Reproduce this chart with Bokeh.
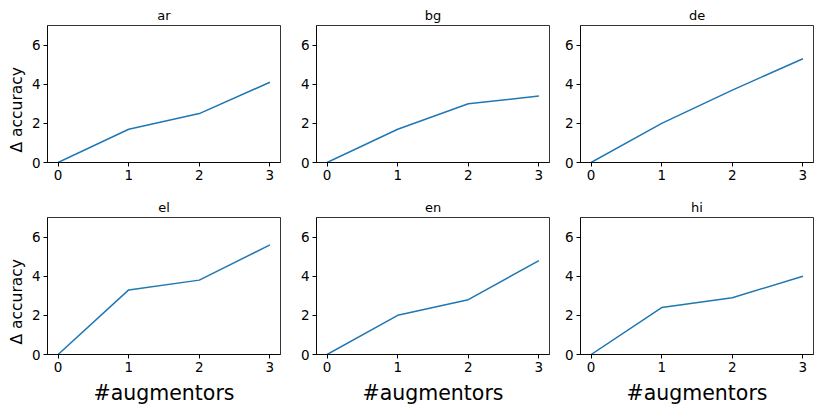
from bokeh.plotting import figure
from bokeh.layouts import column, row
from bokeh.models import FixedTicker, Range1d, Title
from bokeh.embed import file_html
from bokeh.resources import INLINE

num_augmentors = [0, 1, 2, 3]
languages = ["ar", "bg", "de", "el", "en", "hi"]
acc_ar = [0.0, 1.7, 2.5, 4.1]
acc_bg = [0.0, 1.7, 3.0, 3.4]
acc_de = [0.0, 2.0, 3.7, 5.3]
acc_el = [0.0, 3.3, 3.8, 5.6]
acc_en = [0.0, 2.0, 2.8, 4.8]
acc_hi = [0.0, 2.4, 2.9, 4.0]
series = [acc_ar, acc_bg, acc_de, acc_el, acc_en, acc_hi]
y_ticks = [0, 2, 4, 6]
x_ticks = [0, 1, 2, 3]
y_label = "Δ accuracy"
x_label = "#augmentors"

FONT = "DejaVu Sans"
LINE = "#1f77b4"

FW, FH = 233, 137
XR = (-0.15, 3.15)
YR = (0, 7)

lefts = [47, 32, 28]
rights = [4, 3, 5]
tops = [25, 30]
bottoms = [25, 46]

figs = []
for i, (lang, vals) in enumerate(zip(languages, series)):
    r, c = divmod(i, 3)
    p = figure(frame_width=FW, frame_height=FH, output_backend="svg",
               toolbar_location=None, title=lang,
               x_range=Range1d(*XR), y_range=Range1d(*YR),
               min_border_left=lefts[c], min_border_right=rights[c],
               min_border_top=tops[r], min_border_bottom=bottoms[r])
    p.line(num_augmentors, vals, line_color=LINE, line_width=1.5)
    p.title.align = "center"
    p.title.text_font = FONT
    p.title.text_font_size = "13px"
    p.title.text_font_style = "normal"
    p.title.text_color = "black"
    p.title.standoff = 5
    p.title.offset = 0
    p.xgrid.visible = False
    p.ygrid.visible = False
    p.outline_line_color = "black"
    p.outline_line_width = 0.8
    p.outline_line_alpha = 1
    for ax, ticks in ((p.xaxis[0], x_ticks), (p.yaxis[0], y_ticks)):
        ax.ticker = FixedTicker(ticks=ticks)
        ax.minor_tick_line_color = None
        ax.major_tick_in = 0
        ax.major_tick_out = 4
        ax.major_tick_line_color = "black"
        ax.axis_line_color = "black"
        ax.axis_line_width = 0.8
        ax.major_label_standoff = 3
        ax.major_label_text_font = FONT
        ax.major_label_text_font_size = "13.5px"
        ax.major_label_text_color = "black"
        ax.axis_label_text_font = FONT
        ax.axis_label_text_font_style = "normal"
        ax.axis_label_text_color = "black"
    if c == 0:
        # y label as a side title so it can sit slightly below the frame centre
        ylab = Title(text=y_label, align="left", offset=10, standoff=6,
                     text_font=FONT, text_font_size="15.5px",
                     text_font_style="normal", text_color="black")
        p.add_layout(ylab, "left")
    if r == 1:
        p.xaxis[0].axis_label = x_label
        p.xaxis[0].axis_label_text_font_size = "20.5px"
        p.xaxis[0].axis_label_standoff = 6
    figs.append(p)

layout = column(row(*figs[:3]), row(*figs[3:]))
open("out.html", "w").write(file_html(layout, INLINE))
